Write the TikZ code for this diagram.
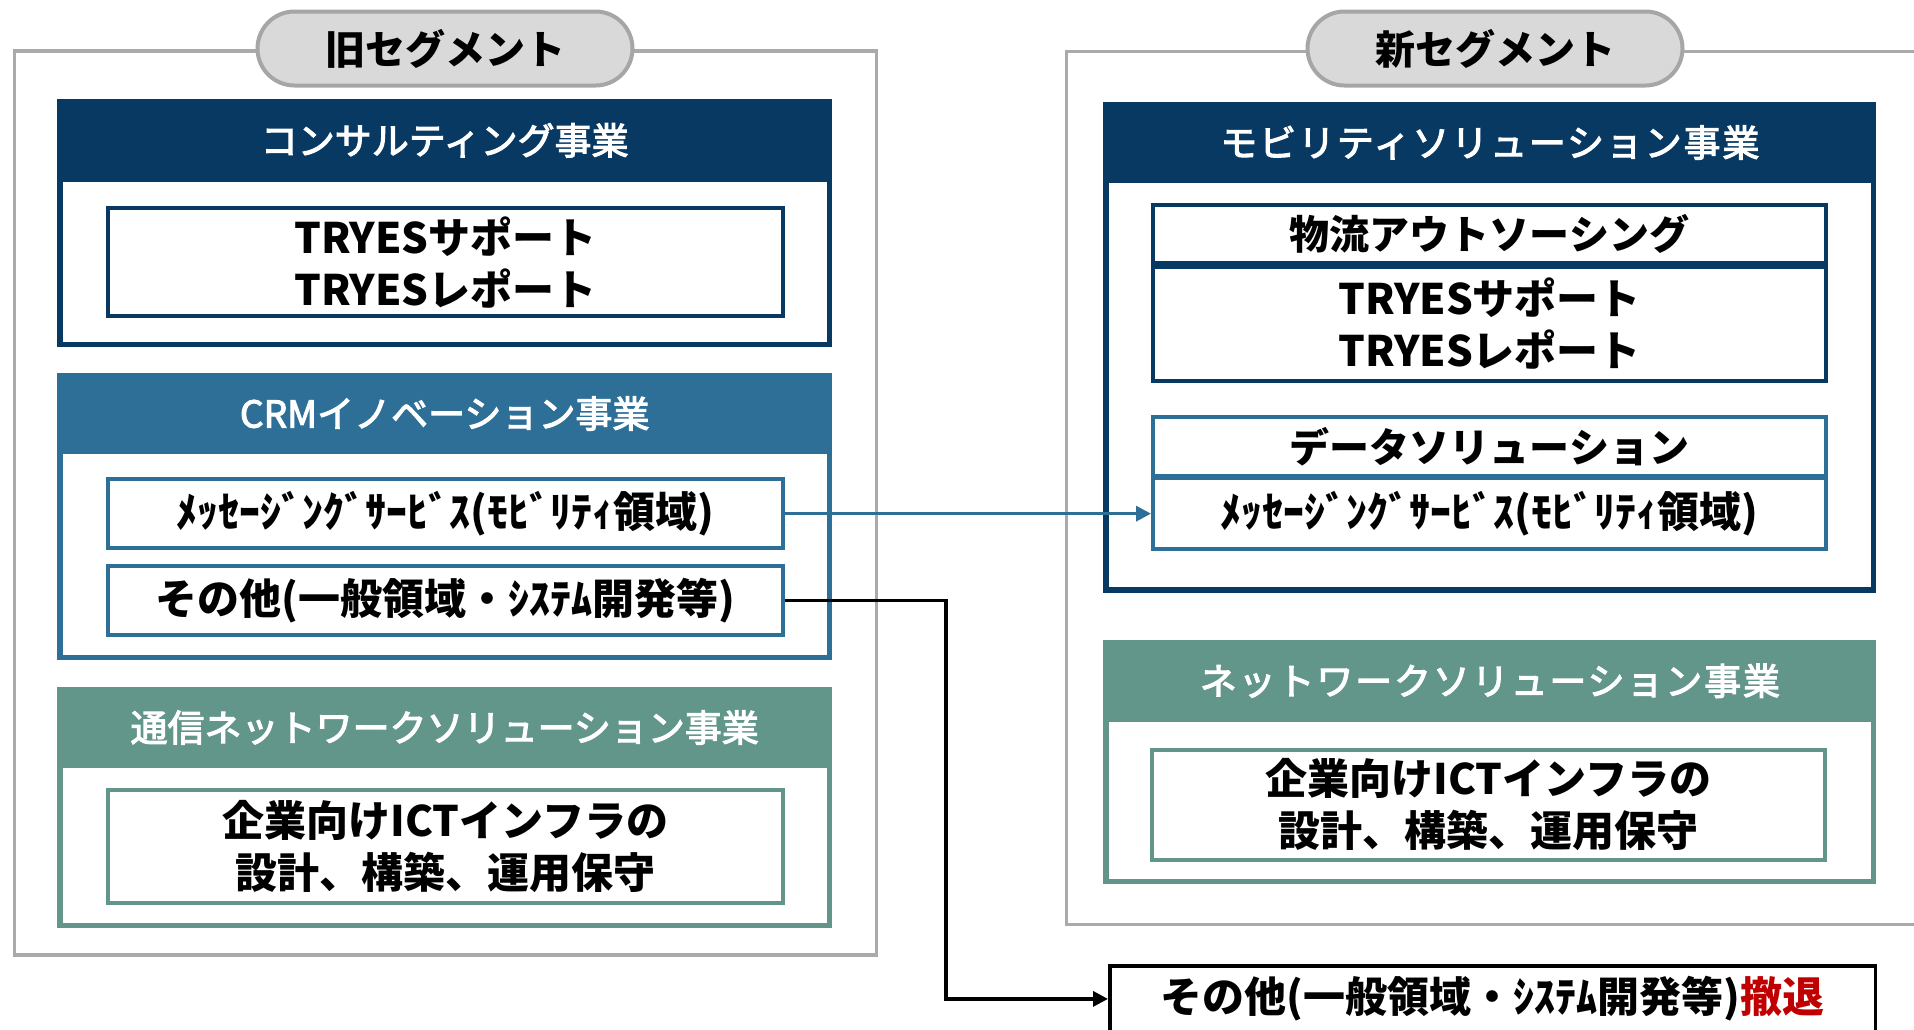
\documentclass[tikz,border=0pt]{standalone}
\usepackage{fontspec}
\setmainfont{Noto Sans CJK JP}
\newfontfamily\jphead[FakeBold=3]{Noto Sans CJK JP}
\newfontfamily\jpwide[LetterSpace=5,FakeBold=3]{Noto Sans CJK JP}
\usetikzlibrary{arrows.meta}
\definecolor{navy}{RGB}{7,57,99}
\definecolor{steel}{RGB}{46,111,152}
\definecolor{teal2}{RGB}{98,150,139}
\definecolor{framegray}{RGB}{170,170,170}
\definecolor{pillfill}{RGB}{217,217,217}
\definecolor{pillline}{RGB}{166,166,166}
\definecolor{retreat}{RGB}{192,0,0}
\begin{document}
\begin{tikzpicture}[x=1pt,y=-1pt,
  grayframe/.style={draw=framegray,line width=3.5pt,inner sep=0pt},
  pill/.style={draw=pillline,fill=pillfill,line width=4pt,rounded corners=37pt,minimum width=375pt,minimum height=74pt,inner sep=0pt,font=\fontsize{40}{48}\selectfont\bfseries},
  segbox/.style={draw=#1,fill=white,line width=5.5pt,inner sep=0pt},
  header/.style={fill=#1,text=white,inner sep=0pt,font=\jphead\fontsize{37}{44}\selectfont},
  rheader/.style={fill=#1,text=white,inner sep=0pt,font=\jpwide\fontsize{37}{44}\selectfont},
  itembox/.style={draw=#1,fill=white,line width=4pt,inner sep=0pt,align=center,font=\fontsize{42}{52}\selectfont\bfseries},
  smallitem/.style={font=\fontsize{40}{48}\selectfont\bfseries},
  link/.style={line width=3.3pt,#1,-{Triangle[length=15pt,width=15pt]}}
]
\useasboundingbox (0,0) rectangle (1914,1029);
\clip (0,0) rectangle (1914,1029);

% ---------- old segment ----------
\node[grayframe, minimum width=861.9pt, minimum height=904pt] (oldframe) at (445.35,503) {};
\node[pill] (oldpill) at (445,48.5) {旧セグメント};

\node[segbox=navy, minimum width=769.1pt, minimum height=242.5pt] (consult) at (444.7,223) {};
\node[header=navy, minimum width=774.6pt, minimum height=82.7pt] (consulthd) at (444.7,140.35) {\raisebox{1.5pt}{コンサルティング事業}};
\node[itembox=navy, minimum width=675.7pt, minimum height=108.3pt] (ltryes) at (445.45,262.15) {TRYESサポート\\TRYESレポート};

\node[segbox=steel, minimum width=769.1pt, minimum height=281.8pt] (crm) at (444.7,516.35) {};
\node[header=steel, minimum width=774.6pt, minimum height=81.6pt] (crmhd) at (444.7,413.5) {CRMイノベーション事業};
\node[itembox=steel, minimum width=675.7pt, minimum height=68.7pt] (lmsg) at (445.45,513.65) {ﾒｯｾｰｼﾞﾝｸﾞｻｰﾋﾞｽ(ﾓﾋﾞﾘﾃｨ領域)};
\node[itembox=steel, minimum width=675.7pt, minimum height=69pt] (lother) at (445.45,600.8) {その他(一般領域・ｼｽﾃﾑ開発等)};

\node[segbox=teal2, minimum width=769.1pt, minimum height=236.1pt] (lnet) at (444.7,807.5) {};
\node[header=teal2, minimum width=774.6pt, minimum height=81.6pt] (lnethd) at (444.7,727.5) {通信ネットワークソリューション事業};
\node[itembox=teal2, minimum width=675.7pt, minimum height=113pt] (lict) at (445.45,846.8) {企業向けICTインフラの\\設計、構築、運用保守};

% ---------- new segment ----------
\node[grayframe, minimum width=863.3pt, minimum height=872.8pt] (newframe) at (1498.35,487.9) {};
\node[pill] (newpill) at (1495,48.5) {新セグメント};

\node[segbox=navy, minimum width=767.5pt, minimum height=485.5pt] (mob) at (1489.9,347.2) {};
\node[rheader=navy, minimum width=773pt, minimum height=81.6pt] (mobhd) at (1489.9,142.5) {\raisebox{1.5pt}{モビリティソリューション事業}};
\node[itembox=navy, smallitem, minimum width=673pt, minimum height=58pt] (logi) at (1489.5,234) {物流アウトソーシング};
\node[itembox=navy, minimum width=673pt, minimum height=114pt] (rtryes) at (1489.5,324) {TRYESサポート\\TRYESレポート};
\node[itembox=steel, smallitem, minimum width=673pt, minimum height=59pt] (data) at (1489.5,446.5) {データソリューション};
\node[itembox=steel, minimum width=673pt, minimum height=71pt] (rmsg) at (1489.5,513.5) {ﾒｯｾｰｼﾞﾝｸﾞｻｰﾋﾞｽ(ﾓﾋﾞﾘﾃｨ領域)};

\node[segbox=teal2, minimum width=767.5pt, minimum height=238.5pt] (rnet) at (1489.9,762) {};
\node[rheader=teal2, minimum width=773pt, minimum height=81.7pt] (rnethd) at (1489.9,680.85) {ネットワークソリューション事業};
\node[itembox=teal2, minimum width=673pt, minimum height=110pt] (rict) at (1488.5,804.7) {企業向けICTインフラの\\設計、構築、運用保守};

\node[draw=black, fill=white, line width=3.5pt, inner sep=0pt, minimum width=765.5pt, minimum height=66.25pt, font=\fontsize{42}{52}\selectfont\bfseries] (retire) at (1492.5,998.9) {その他(一般領域・ｼｽﾃﾑ開発等)\textcolor{retreat}{撤退}};

% ---------- connectors ----------
\coordinate (elbow) at (946,0);
\draw[link=steel] (lmsg.east) -- (lmsg.east -| rmsg.west);
\draw[link=black] (lother.east) -- (lother.east -| elbow) |- (retire.west);
\end{tikzpicture}
\end{document}
